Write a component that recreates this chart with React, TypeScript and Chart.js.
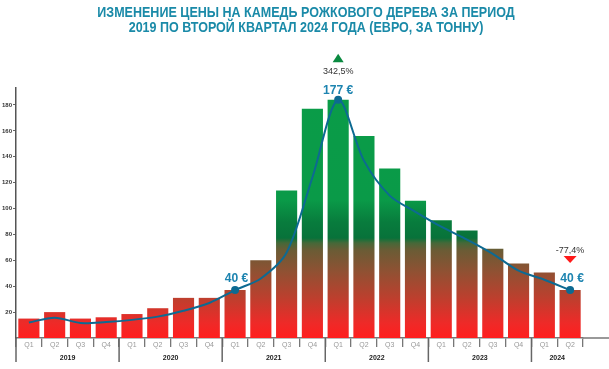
import React, { useEffect, useRef } from "react";
import { Chart, registerables } from "chart.js";
Chart.register(...registerables);

const QUARTERS = ["Q1","Q2","Q3","Q4","Q1","Q2","Q3","Q4","Q1","Q2","Q3","Q4","Q1","Q2","Q3","Q4","Q1","Q2","Q3","Q4","Q1","Q2"];
const YEARS = ["2019","2020","2021","2022","2023","2024"];
const YEAR_COUNTS = [4,4,4,4,4,2];
const BAR_VALUES = [15,20,15,16,18.5,23,31,31,37,60,114,177,184,156,131,106,91,83,69,57.5,50.5,37];
const LINE_VALUES = [12,15.7,11.6,12.4,14,16.5,21,27,37,46,66,124,184,137,110,97.5,86,76,65,52,45,37];
const Y_TICKS = [20,40,60,80,100,120,140,160,180];
const Y_MAX = 193.1;
const TITLE_LINES = [
  "ИЗМЕНЕНИЕ ЦЕНЫ НА КАМЕДЬ РОЖКОВОГО ДЕРЕВА ЗА ПЕРИОД",
  "2019 ПО ВТОРОЙ КВАРТАЛ 2024 ГОДА (ЕВРО, ЗА ТОННУ)",
];
const CALLOUT_INDEX = [8, 12, 21];
const CALLOUT_TEXT = ["40 €", "177 €", "40 €"];
const CHANGE_INDEX = [12, 21];
const CHANGE_TEXT = ["342,5%", "-77,4%"];
const CHANGE_DIR = ["up", "down"];

const FONT = '"Liberation Sans", Arial, sans-serif';

function barGradient(ctx: any) {
  const chart = ctx.chart;
  const area = chart.chartArea;
  if (!area) return "#e02828";
  const g = chart.ctx.createLinearGradient(0, area.bottom, 0, area.top);
  const h = area.bottom - area.top;
  const at = (y: number) => Math.min(1, Math.max(0, (area.bottom - (area.top + (y - 88) * h / 250)) / h));
  g.addColorStop(0, "#ff1e1e");
  g.addColorStop(at(323), "#ee2a28");
  g.addColorStop(at(297), "#bb402e");
  g.addColorStop(at(270), "#8d5233");
  g.addColorStop(at(250), "#6a5c35");
  g.addColorStop(at(243), "#466838");
  g.addColorStop(at(238), "#08723a");
  g.addColorStop(at(222), "#087c3d");
  g.addColorStop(at(200), "#0a9a48");
  g.addColorStop(1, "#0a9c48");
  return g;
}

function condensedText(ctx: any, text: string, cx: number, y: number, sx: number) {
  ctx.save();
  ctx.translate(cx, y);
  ctx.scale(sx, 1);
  ctx.fillText(text, 0, 0);
  ctx.restore();
}

const decorPlugin = {
  id: "decor",
  afterDraw(chart: any) {
    const { ctx, chartArea: area, scales } = chart;
    const xs = scales.x;
    ctx.save();
    // title
    ctx.fillStyle = "#1a8aa8";
    ctx.textAlign = "center";
    ctx.textBaseline = "alphabetic";
    ctx.font = "bold 14px " + FONT;
    condensedText(ctx, TITLE_LINES[0], 306, 17, 0.895);
    condensedText(ctx, TITLE_LINES[1], 306, 32, 0.895);

    // axis extension
    ctx.strokeStyle = "#777";
    ctx.lineWidth = 1.5;
    ctx.beginPath();
    ctx.moveTo(area.right, area.bottom);
    ctx.lineTo(chart.width, area.bottom);
    ctx.stroke();

    // year groups
    let start = 0;
    ctx.font = "bold 7px " + FONT;
    ctx.fillStyle = "#222";
    ctx.textBaseline = "middle";
    YEARS.forEach((yr, i) => {
      const end = start + YEAR_COUNTS[i] - 1;
      const xl = start === 0 ? xs.left : (xs.getPixelForValue(start - 1) + xs.getPixelForValue(start)) / 2;
      ctx.strokeStyle = "#666";
      ctx.lineWidth = 1.5;
      ctx.beginPath();
      ctx.moveTo(xl, area.bottom);
      ctx.lineTo(xl, area.bottom + 24);
      ctx.stroke();
      const xc = (xs.getPixelForValue(start) + xs.getPixelForValue(end)) / 2;
      ctx.fillText(yr, xc, area.bottom + 20);
      start = end + 1;
    });

    // callouts
    const meta = chart.getDatasetMeta(1);
    ctx.textAlign = "center";
    ctx.textBaseline = "alphabetic";
    CALLOUT_INDEX.forEach((idx, k) => {
      const pt = meta.data[idx];
      ctx.font = "bold 13px " + FONT;
      ctx.fillStyle = "#1d84b0";
      const dx = k === 2 ? 2 : k === 0 ? 1.5 : 0;
      condensedText(ctx, CALLOUT_TEXT[k], pt.x + dx, pt.y - (k === 1 ? 6 : 8), 0.93);
    });
    CHANGE_INDEX.forEach((idx, k) => {
      const pt = meta.data[idx];
      const x = pt.x;
      ctx.font = "9px " + FONT;
      ctx.fillStyle = "#333";
      if (CHANGE_DIR[k] === "up") {
        ctx.fillText(CHANGE_TEXT[k], x, pt.y - 26);
        ctx.fillStyle = "#0a8a40";
        const ty = pt.y - 46;
        ctx.beginPath();
        ctx.moveTo(x - 5.5, ty + 8.5);
        ctx.lineTo(x + 5.5, ty + 8.5);
        ctx.lineTo(x, ty);
        ctx.closePath();
        ctx.fill();
      } else {
        ctx.fillText(CHANGE_TEXT[k], x, pt.y - 37);
        ctx.fillStyle = "#ff1a1a";
        const ty = pt.y - 34;
        ctx.beginPath();
        ctx.moveTo(x - 6.5, ty);
        ctx.lineTo(x + 6.5, ty);
        ctx.lineTo(x, ty + 7);
        ctx.closePath();
        ctx.fill();
      }
    });
    ctx.restore();
  },
};

export default function App() {
  const ref = useRef<HTMLCanvasElement | null>(null);
  useEffect(() => {
    document.body.style.margin = "0";
    const canvas = ref.current;
    if (!canvas) return;
    const pointRadius = LINE_VALUES.map((_, i) => (CALLOUT_INDEX.includes(i) ? 3 : 0));
    const chart = new Chart(canvas, {
      type: "bar",
      data: {
        labels: QUARTERS,
        datasets: [
          {
            type: "bar",
            data: BAR_VALUES,
            backgroundColor: barGradient,
            categoryPercentage: 1,
            barPercentage: 0.82,
            order: 2,
          } as any,
          {
            type: "line",
            data: LINE_VALUES,
            borderColor: "#0d6a92",
            backgroundColor: "#0d6a92",
            borderWidth: 2,
            tension: 0.3,
            pointRadius,
            pointHoverRadius: pointRadius,
            order: 1,
          } as any,
        ],
      },
      options: {
        responsive: false,
        animation: false,
        devicePixelRatio: 1,
        layout: { padding: { top: 88, right: 26, left: 0, bottom: 0 } },
        plugins: { legend: { display: false }, tooltip: { enabled: false }, title: { display: false } },
        scales: {
          x: {
            grid: { display: true, drawOnChartArea: false, tickLength: 9, color: "#777", lineWidth: 1.3, offset: true },
            border: { display: true, color: "#777", width: 1.5 },
            ticks: { color: "#999", font: { size: 7, family: FONT }, padding: -6, maxRotation: 0, autoSkip: false },
            afterFit: (s: any) => { s.height = 31; },
          },
          y: {
            min: 0,
            max: Y_MAX,
            grid: { display: true, drawOnChartArea: false, tickLength: 3, color: "#666" },
            border: { display: true, color: "#555", width: 1.5 },
            ticks: { color: "#333", font: { size: 6, weight: "bold", family: FONT }, padding: 1 },
            afterBuildTicks: (s: any) => { s.ticks = Y_TICKS.map((v) => ({ value: v })); },
            afterFit: (s: any) => { s.width = 16; },
          },
        },
      } as any,
      plugins: [decorPlugin],
    });
    return () => chart.destroy();
  }, []);
  return (
    <div style={{ width: 609, height: 369, overflow: "hidden", background: "#fff" }}>
      <canvas ref={ref} width={609} height={369} />
    </div>
  );
}
